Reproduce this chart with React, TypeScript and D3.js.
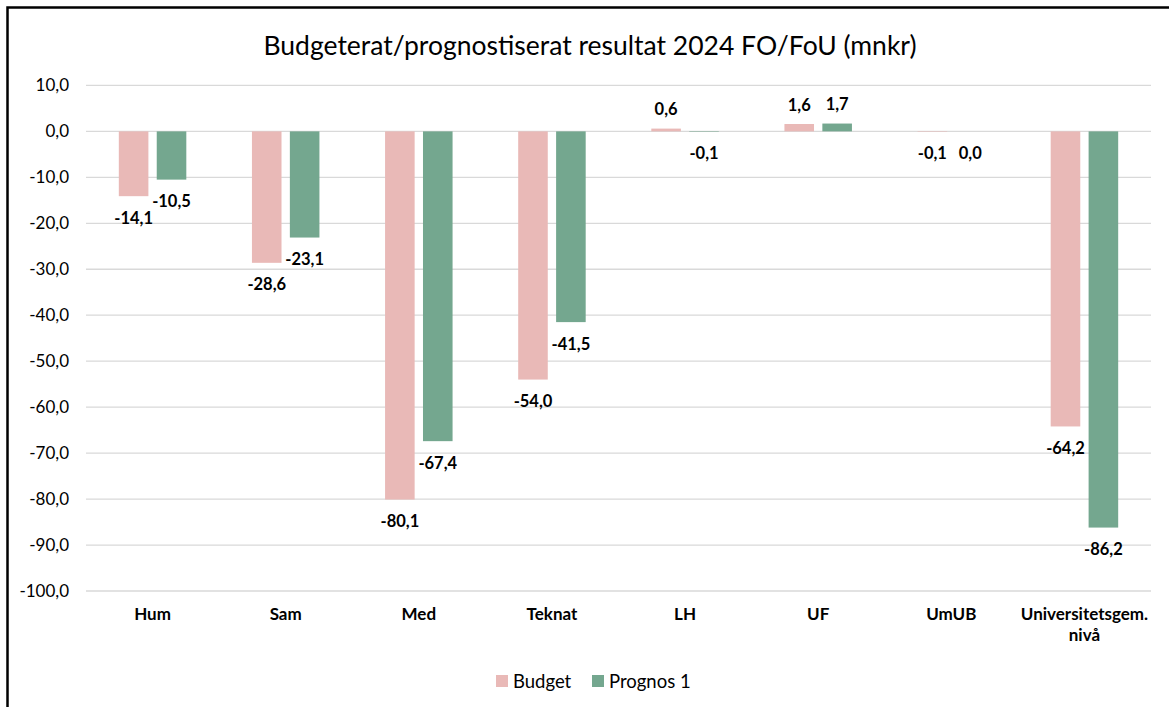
import React from "react";
import * as d3 from "d3";

const categories = ["Hum", "Sam", "Med", "Teknat", "LH", "UF", "UmUB", "Universitetsgem.\nnivå"];
const budget = [-14.1, -28.6, -80.1, -54.0, 0.6, 1.6, -0.1, -64.2];
const prognos = [-10.5, -23.1, -67.4, -41.5, -0.1, 1.7, 0.0, -86.2];
const seriesNames = ["Budget", "Prognos 1"];
const yTicks = [10, 0, -10, -20, -30, -40, -50, -60, -70, -80, -90, -100];

const W = 1169;
const H = 707;
const colors = ["#E9B9B7", "#74A78F"];
const FONT = "Lato, 'Open Sans', sans-serif";

export default function App() {
  const y = d3.scaleLinear().domain([-100, 10]).range([591, 85.4]);
  const x0 = d3.scaleBand<string>().domain(categories).range([86, 1151]).paddingInner(0).paddingOuter(0);
  const x1 = d3.scaleBand<number>().domain([0, 1]).range([0, 67.5]).paddingInner(0.22);
  const groupOffset = (x0.bandwidth() - 67.5) / 2;
  const fmt = (v: number) => v.toFixed(1).replace(".", ",");
  const series = [budget, prognos];

  return (
    <svg width={W} height={H} style={{ position: "absolute", left: 0, top: 0, background: "#fff" }}>
      <rect x={0} y={0} width={W} height={H} fill="#fff" />
      <rect x={7.5} y={7.5} width={W + 20} height={H + 20} fill="none" stroke="#000" strokeWidth={2.5} />
      <text x={590} y={55} textAnchor="middle" fontFamily={FONT} fontSize={26.5} fill="#000">
        Budgeterat/prognostiserat resultat 2024 FO/FoU (mnkr)
      </text>
      {yTicks.map((t) => (
        <g key={t}>
          <line x1={86} x2={1151} y1={y(t)} y2={y(t)} stroke="#D9D9D9" strokeWidth={1.3} />
          <text x={69} y={y(t)} dy="0.35em" textAnchor="end" fontFamily={FONT} fontSize={17} fill="#000">
            {fmt(t)}
          </text>
        </g>
      ))}
      {categories.map((c, i) => (
        <g key={c} transform={`translate(${(x0(c) as number) + groupOffset},0)`}>
          {series.map((s, si) => {
            const v = s[i];
            const bx = x1(si) as number;
            const bw = x1.bandwidth();
            const y0 = y(0);
            const yv = y(v);
            const top = Math.min(y0, yv);
            const h = Math.abs(yv - y0);
            const ly = v > 0 ? yv - 13.5 : yv + 27.5;
            return (
              <g key={si}>
                <rect x={bx} y={top} width={bw} height={h} fill={colors[si]} />
                <text x={bx + bw / 2} y={ly} textAnchor="middle" fontFamily={FONT} fontSize={16.5} fontWeight="bold" fill="#000">
                  {fmt(v)}
                </text>
              </g>
            );
          })}
        </g>
      ))}
      {categories.map((c) => {
        const lines = c.split("\n");
        const cx = (x0(c) as number) + x0.bandwidth() / 2;
        return (
          <text key={c} x={cx} y={620} textAnchor="middle" fontFamily={FONT} fontSize={17} fontWeight="bold" fill="#000">
            {lines.map((l, li) => (
              <tspan key={li} x={cx} dy={li === 0 ? 0 : 21}>
                {l}
              </tspan>
            ))}
          </text>
        );
      })}
      {seriesNames.map((n, i) => {
        const lx = i === 0 ? 496 : 592;
        return (
          <g key={n}>
            <rect x={lx} y={675} width={12} height={12} fill={colors[i]} />
            <text x={lx + 17} y={687.5} fontFamily={FONT} fontSize={18.5} fill="#000">
              {n}
            </text>
          </g>
        );
      })}
    </svg>
  );
}
